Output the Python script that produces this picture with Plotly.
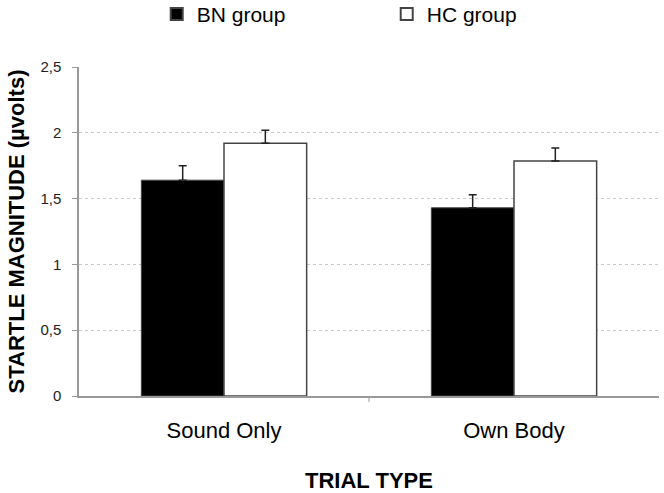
import plotly.graph_objects as go

categories = ["Sound Only", "Own Body"]
bn_values = [1.64, 1.43]
bn_errors = [0.11, 0.10]
hc_values = [1.92, 1.785]
hc_errors = [0.10, 0.10]
y_ticks = [0, 0.5, 1, 1.5, 2, 2.5]
y_tick_labels = ["0", "0,5", "1", "1,5", "2", "2,5"]

fig = go.Figure()
fig.add_trace(go.Bar(
    name="BN group", x=categories, y=bn_values,
    marker=dict(color="black", line=dict(color="#444", width=1)),
    error_y=dict(type="data", array=bn_errors, arrayminus=[0, 0], symmetric=False,
                 visible=True, color="#222", thickness=1.5, width=4),
))
fig.add_trace(go.Bar(
    name="HC group", x=categories, y=hc_values,
    marker=dict(color="white", line=dict(color="#444", width=1.5)),
    error_y=dict(type="data", array=hc_errors, arrayminus=[0, 0], symmetric=False,
                 visible=True, color="#222", thickness=1.5, width=4),
))

fig.add_shape(type="line", xref="x", yref="paper", x0=0.5, x1=0.5, y0=0, y1=-0.018,
              line=dict(color="#999", width=1))

fig.update_layout(
    width=664, height=493,
    margin=dict(l=79, r=5, t=67, b=97, autoexpand=False),
    paper_bgcolor="white", plot_bgcolor="white",
    barmode="group", bargap=0.43, bargroupgap=0,
    font=dict(family="Liberation Sans, Arial, sans-serif", color="black"),
    legend=dict(orientation="h", x=0.134, xanchor="left", y=1.16, yanchor="middle",
                font=dict(size=21), entrywidth=185, tracegroupgap=0,
                itemsizing="constant", traceorder="normal"),
    showlegend=True,
    xaxis=dict(showline=True, linecolor="#999", linewidth=2, showgrid=False,
               tickfont=dict(size=22), ticks="", ticklabelstandoff=14,
               title=dict(text="<b>TRIAL TYPE</b>", font=dict(size=22), standoff=32)),
    yaxis=dict(range=[0, 2.5], tickvals=y_ticks, ticktext=y_tick_labels,
               showline=True, linecolor="#999", linewidth=1.5,
               ticks="outside", ticklen=5, tickcolor="#999", ticklabelstandoff=8,
               showgrid=True, gridcolor="#c8c8c8", griddash="dot", gridwidth=1,
               tickfont=dict(size=15, color="#222"), zeroline=False,
               title=dict(text="<b>STARTLE MAGNITUDE (µvolts)</b>", font=dict(size=22), standoff=10)),
)
fig.write_html("out.html", config={"displayModeBar": False},
               post_script="document.body.style.margin='0';")
